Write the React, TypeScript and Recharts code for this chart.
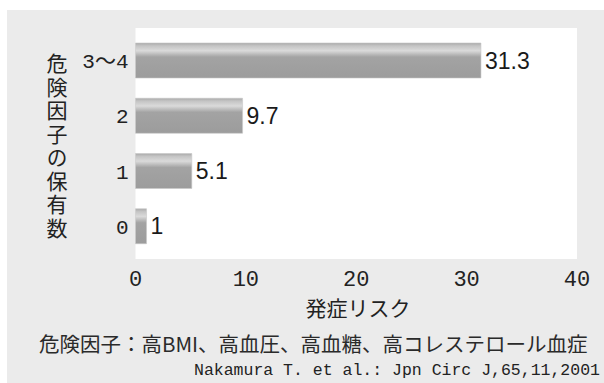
import { BarChart, Bar, XAxis, YAxis, CartesianGrid, LabelList } from 'recharts'

const categories = ['3～4', '2', '1', '0']
const risk = [31.3, 9.7, 5.1, 1]
const xTicks = [0, 10, 20, 30, 40]

const yTitle = '危険因子の保有数'
const xTitle = '発症リスク'
const note = '危険因子：高BMI、高血圧、高血糖、高コレステロール血症'
const source = 'Nakamura T. et al.: Jpn Circ J,65,11,2001'

const data = categories.map((name, i) => ({ name, value: risk[i] }))

const MONO = '"Liberation Mono", "Noto Sans CJK JP", monospace'
const CJK = '"Noto Sans CJK JP", sans-serif'

export default function App() {
  return (
    <div style={{ position: 'fixed', left: 0, top: 0, width: 604, height: 383, background: '#fff', overflow: 'hidden' }}>
      <div style={{ position: 'absolute', left: 7, top: 10, width: 597, height: 373, background: '#ebebeb' }} />

      <div style={{ position: 'absolute', left: 0, top: 0 }}>
        <BarChart
          width={604}
          height={383}
          data={data}
          layout="vertical"
          margin={{ top: 28, right: 27, bottom: 94, left: 0 }}
          barCategoryGap={0}
        >
          <defs>
            <linearGradient id="barGrad" x1="0" y1="0" x2="0" y2="1">
              <stop offset="0%" stopColor="#a9a9a9" />
              <stop offset="8%" stopColor="#c4c4c4" />
              <stop offset="22%" stopColor="#dadada" />
              <stop offset="40%" stopColor="#a3a3a3" />
              <stop offset="100%" stopColor="#9c9c9c" />
            </linearGradient>
          </defs>
          <CartesianGrid horizontal={false} vertical={false} fill="#ffffff" stroke="none" />
          <XAxis
            type="number"
            domain={[0, 40]}
            ticks={xTicks}
            axisLine={false}
            tickLine={false}
            height={30}
            tickMargin={5}
            tick={{ fill: '#222', fontSize: 22, fontFamily: MONO }}
          />
          <YAxis
            type="category"
            dataKey="name"
            width={135.5}
            axisLine={false}
            tickLine={false}
            tickMargin={1}
            padding={{ top: 5, bottom: 5 }}
            tick={{ fill: '#222', fontSize: 21, fontFamily: MONO }}
          />
          <Bar dataKey="value" fill="url(#barGrad)" stroke="#c8c8c8" strokeWidth={0.6} barSize={35} isAnimationActive={false}>
            <LabelList
              dataKey="value"
              position="right"
              offset={4}
              fill="#1a1a1a"
              fontSize={23}
              fontFamily='"Liberation Sans", Arial, sans-serif'
            />
          </Bar>
        </BarChart>
      </div>

      <div
        style={{
          position: 'absolute', left: 45, top: 53, width: 24,
          writingMode: 'vertical-rl', fontFamily: CJK, fontSize: 21,
          lineHeight: '24px', letterSpacing: 2.5, color: '#222',
        }}
      >
        {yTitle}
      </div>

      <div
        style={{
          position: 'absolute', left: 258, top: 293, width: 200, textAlign: 'center',
          fontFamily: CJK, fontSize: 21, lineHeight: '28px', color: '#222',
        }}
      >
        {xTitle}
      </div>

      <div
        style={{
          position: 'absolute', left: 39, top: 329, whiteSpace: 'nowrap',
          fontFamily: CJK, fontSize: 20.5, lineHeight: '28px', color: '#2a2a2a',
        }}
      >
        {note}
      </div>

      <div
        style={{
          position: 'absolute', left: 194, top: 359, whiteSpace: 'nowrap',
          fontFamily: MONO, fontSize: 16.5, lineHeight: '24px', color: '#222',
        }}
      >
        {source}
      </div>
    </div>
  )
}
